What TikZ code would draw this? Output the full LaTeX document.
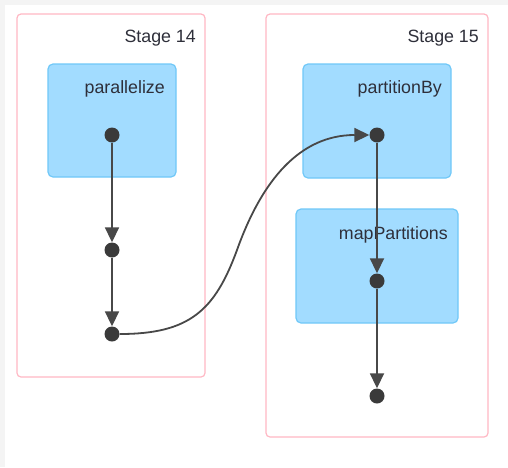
\documentclass[tikz,border=0pt]{standalone}
\usepackage{fontspec}
\setmainfont{Liberation Sans}
\usetikzlibrary{arrows.meta}
\definecolor{pagegray}{HTML}{F4F4F4}
\definecolor{stageline}{HTML}{FFB8C4}
\definecolor{rddfill}{HTML}{A2DCFF}
\definecolor{rddline}{HTML}{70C8F8}
\definecolor{dotcol}{HTML}{3A3A3A}
\definecolor{edgecol}{HTML}{484848}
\definecolor{txtcol}{HTML}{2E2F3A}
\tikzset{
  stagebox/.style={draw=stageline, line width=1.2, rounded corners=4, fill=white},
  rddbox/.style={draw=rddline, line width=1.2, rounded corners=5, fill=rddfill},
  boxtitle/.style={anchor=base east, inner sep=0, text=txtcol, font=\fontsize{17.8}{20}\selectfont},
  dotnode/.style={circle, fill=dotcol, inner sep=0, minimum size=15},
  edgeline/.style={draw=edgecol, line width=1.8, -{Triangle[length=15pt,width=14pt]}}
}
\begin{document}
\begin{tikzpicture}[x=1pt,y=-1pt]
\fill[pagegray] (0,0) rectangle (508,467);
\fill[white] (5,5) rectangle (508,467);
\draw[stagebox] (17,14) rectangle (205,377);
\draw[stagebox] (266,14) rectangle (488,437);
\node[boxtitle] (stage14) at (196,42.7) {Stage 14};
\node[boxtitle] (stage15) at (479,42.7) {Stage 15};
\draw[rddbox] (48,64) rectangle (176,177);
\draw[rddbox] (303,64) rectangle (451,178);
\draw[rddbox] (296,209) rectangle (458,323);
\node[boxtitle] (parallelize) at (165,93.5) {parallelize};
\node[boxtitle] (partitionBy) at (442,93.5) {partitionBy};
\node[boxtitle] (mapPartitions) at (448,239) {mapPartitions};
\foreach \name/\x/\y in {d1/112/135, d2/112/250, d3/112/334, d4/377/135, d5/377/281, d6/377/396}
  \node[dotnode] (\name) at (\x,\y) {};
\coordinate (bend) at (237,250);
\draw[edgeline] (d1) -- (d2);
\draw[edgeline] (d2) -- (d3);
\draw[edgeline] (d3) .. controls (190,334) and (215,310) .. (bend) .. controls (262,180) and (300,135) .. (d4);
\draw[edgeline] (d4) -- (d5);
\draw[edgeline] (d5) -- (d6);
\end{tikzpicture}
\end{document}
